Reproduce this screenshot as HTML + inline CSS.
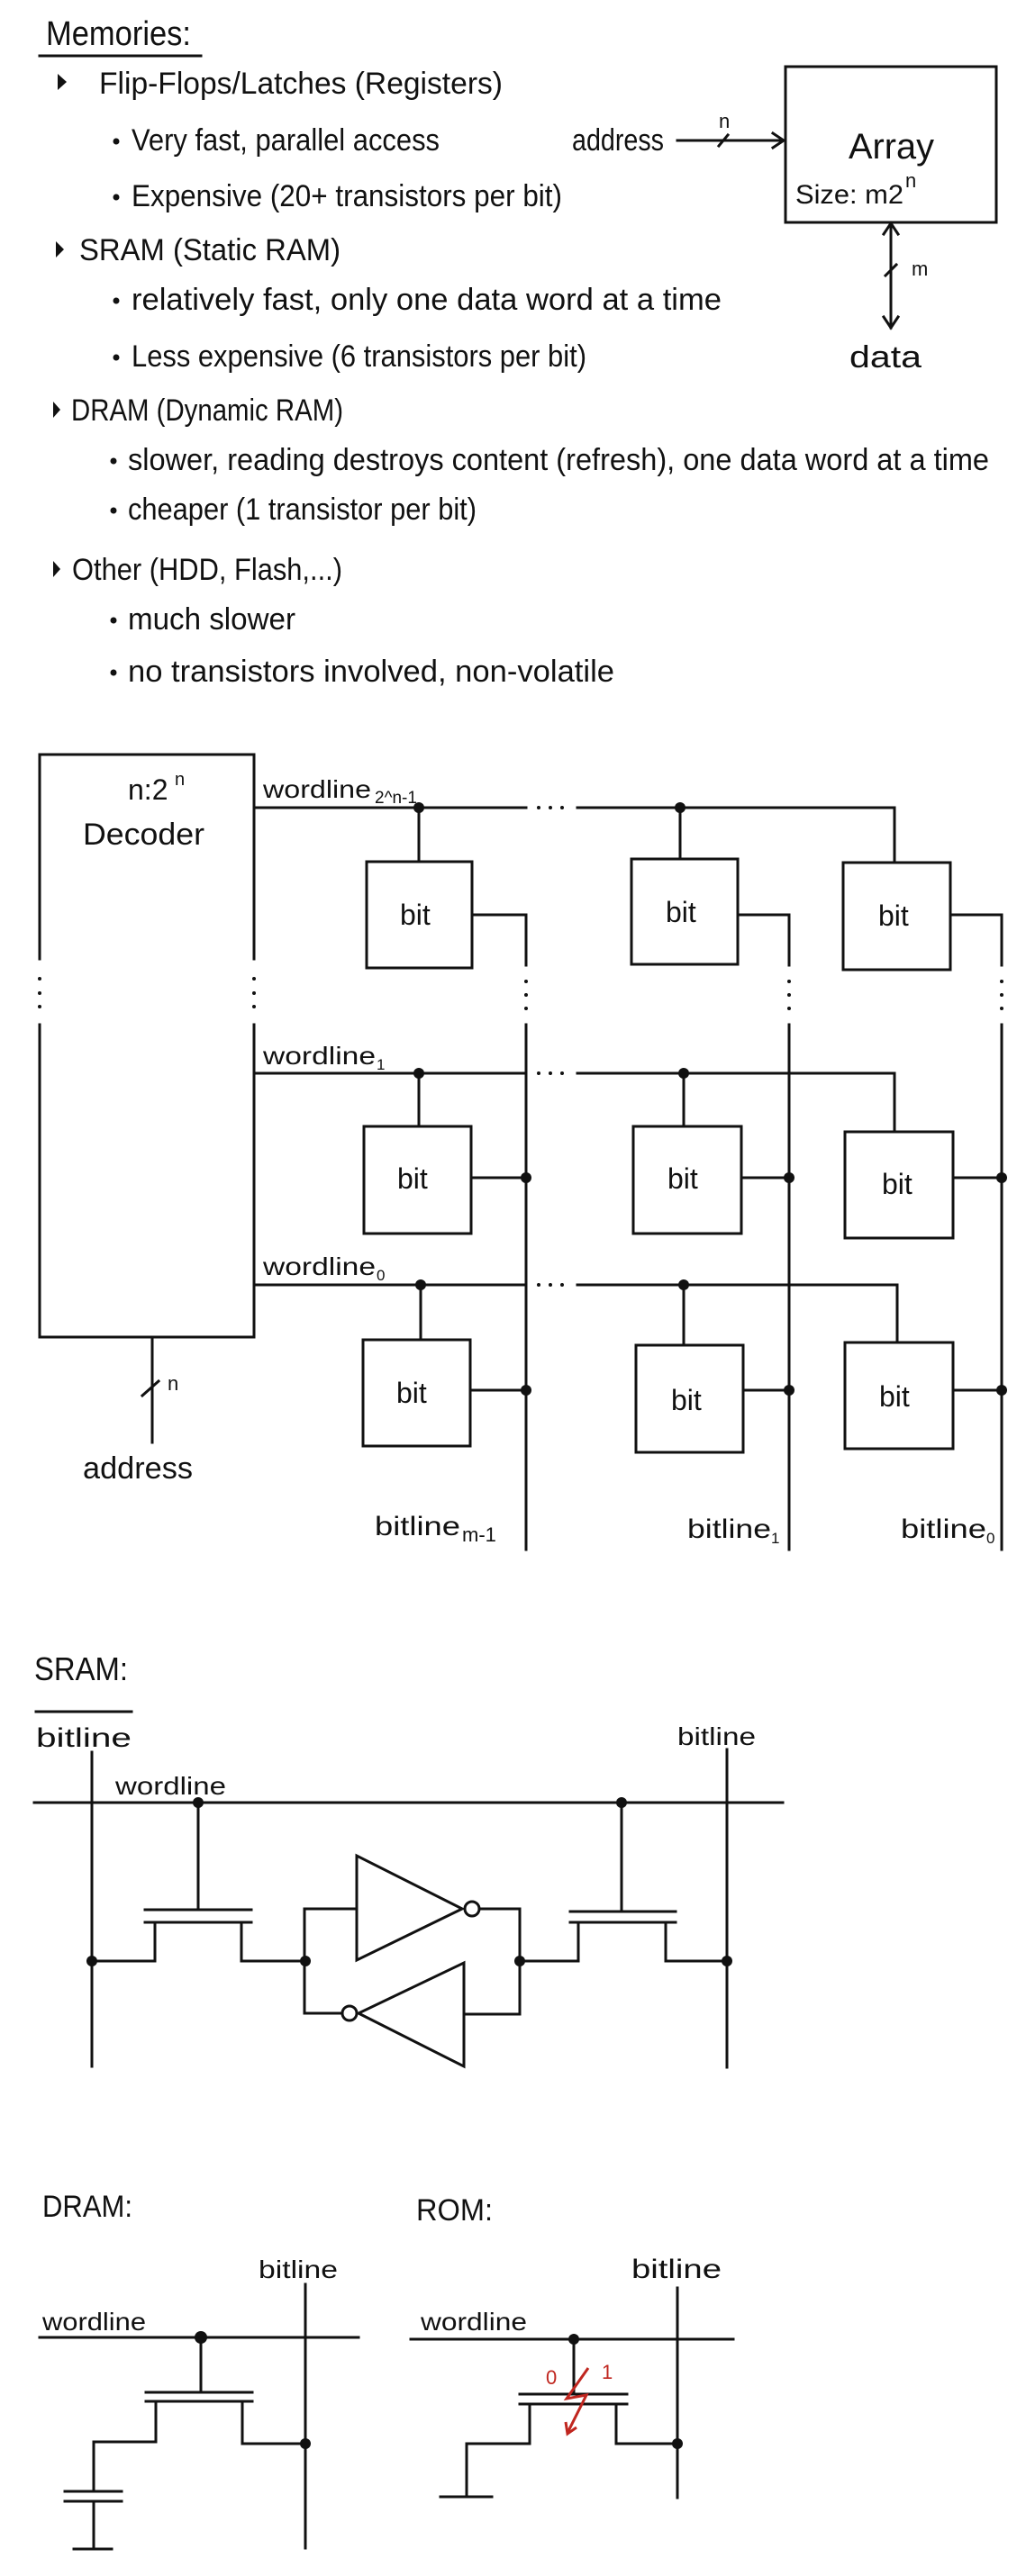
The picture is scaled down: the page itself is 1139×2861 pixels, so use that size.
<!DOCTYPE html>
<html><head><meta charset="utf-8"><style>
html,body{margin:0;padding:0;background:#fff;}
svg{display:block;}
text{font-family:"Liberation Sans",sans-serif;fill:#111;}
</style></head><body>
<svg width="1139" height="2861" viewBox="0 0 1139 2861" xmlns="http://www.w3.org/2000/svg">
<g stroke="#111" stroke-width="3" fill="none" stroke-linecap="square">
<line x1="44" y1="62" x2="223" y2="62"/>
<rect x="872" y="74" width="234" height="173"/>
<line x1="752" y1="156" x2="870" y2="156"/>
<polyline points="858,148 870,156 858,164"/>
<line x1="798" y1="162" x2="808" y2="150"/>
<line x1="989" y1="248" x2="989" y2="364"/>
<polyline points="981,260 989,248 997,260"/>
<polyline points="981,352 989,364 997,352"/>
<line x1="983" y1="306" x2="995" y2="294"/>
<line x1="44" y1="838" x2="282" y2="838"/>
<line x1="44" y1="1485" x2="282" y2="1485"/>
<line x1="44" y1="838" x2="44" y2="1065"/>
<line x1="44" y1="1138" x2="44" y2="1485"/>
<line x1="282" y1="838" x2="282" y2="1065"/>
<line x1="282" y1="1138" x2="282" y2="1485"/>
<line x1="169" y1="1485" x2="169" y2="1602"/>
<line x1="158" y1="1550" x2="176" y2="1534"/>
<line x1="584" y1="1016" x2="584" y2="1072"/><line x1="584" y1="1138" x2="584" y2="1721"/>
<line x1="876" y1="1016" x2="876" y2="1072"/><line x1="876" y1="1138" x2="876" y2="1721"/>
<line x1="1112" y1="1016" x2="1112" y2="1072"/><line x1="1112" y1="1138" x2="1112" y2="1721"/>
<line x1="282" y1="897" x2="584" y2="897"/><line x1="641" y1="897" x2="993" y2="897"/><line x1="993" y1="897" x2="993" y2="958"/>
<line x1="465" y1="897" x2="465" y2="957"/><line x1="755" y1="897" x2="755" y2="954"/>
<rect x="407" y="957" width="117" height="118"/><rect x="701" y="954" width="118" height="117"/><rect x="936" y="958" width="119" height="119"/>
<polyline points="524,1016 584,1016 584,1020"/><polyline points="819,1016 876,1016 876,1020"/><polyline points="1055,1016 1112,1016 1112,1020"/>
<line x1="282" y1="1192" x2="584" y2="1192"/><line x1="641" y1="1192" x2="993" y2="1192"/><line x1="993" y1="1192" x2="993" y2="1257"/>
<line x1="465" y1="1192" x2="465" y2="1251"/><line x1="759" y1="1192" x2="759" y2="1251"/>
<rect x="404" y="1251" width="119" height="119"/><rect x="703" y="1251" width="120" height="119"/><rect x="938" y="1257" width="120" height="118"/>
<line x1="523" y1="1308" x2="584" y2="1308"/><line x1="823" y1="1308" x2="876" y2="1308"/><line x1="1058" y1="1308" x2="1112" y2="1308"/>
<line x1="282" y1="1427" x2="584" y2="1427"/><line x1="641" y1="1427" x2="996" y2="1427"/><line x1="996" y1="1427" x2="996" y2="1491"/>
<line x1="467" y1="1427" x2="467" y2="1488"/><line x1="759" y1="1427" x2="759" y2="1494"/>
<rect x="403" y="1488" width="119" height="118"/><rect x="706" y="1494" width="119" height="119"/><rect x="938" y="1491" width="120" height="118"/>
<line x1="522" y1="1544" x2="584" y2="1544"/><line x1="825" y1="1544" x2="876" y2="1544"/><line x1="1058" y1="1544" x2="1112" y2="1544"/>
<line x1="40" y1="1901" x2="146" y2="1901"/>
<line x1="102" y1="1946" x2="102" y2="2295"/>
<line x1="807" y1="1943" x2="807" y2="2296"/>
<line x1="38" y1="2002" x2="869" y2="2002"/>
<line x1="220" y1="2002" x2="220" y2="2121"/>
<line x1="161" y1="2121" x2="279" y2="2121"/><line x1="161" y1="2135" x2="279" y2="2135"/>
<polyline points="102,2178 172,2178 172,2135"/><polyline points="268,2135 268,2178 339,2178"/>
<polygon points="396,2061 396,2177 513,2120"/>
<circle cx="524" cy="2120" r="8"/>
<polyline points="532,2120 577,2120 577,2237 515,2237"/>
<polyline points="396,2120 338,2120 338,2236 380,2236"/>
<polygon points="515,2180 515,2295 398,2236"/>
<circle cx="388" cy="2236" r="8"/>
<line x1="690" y1="2002" x2="690" y2="2123"/>
<line x1="633" y1="2123" x2="750" y2="2123"/><line x1="633" y1="2135" x2="750" y2="2135"/>
<polyline points="577,2178 642,2178 642,2135"/><polyline points="739,2135 739,2178 807,2178"/>
<line x1="339" y1="2537" x2="339" y2="2830"/>
<line x1="44" y1="2596" x2="398" y2="2596"/>
<line x1="223" y1="2596" x2="223" y2="2657"/>
<line x1="162" y1="2657" x2="280" y2="2657"/><line x1="162" y1="2667" x2="280" y2="2667"/>
<polyline points="269,2667 269,2714 339,2714"/>
<polyline points="173,2667 173,2712 104,2712 104,2767"/>
<line x1="72" y1="2767" x2="135" y2="2767"/><line x1="72" y1="2778" x2="135" y2="2778"/>
<line x1="104" y1="2778" x2="104" y2="2831"/><line x1="82" y1="2831" x2="124" y2="2831"/>
<line x1="752" y1="2541" x2="752" y2="2774"/>
<line x1="456" y1="2598" x2="814" y2="2598"/>
<line x1="637" y1="2598" x2="637" y2="2659"/>
<line x1="577" y1="2659" x2="696" y2="2659"/><line x1="577" y1="2670" x2="696" y2="2670"/>
<polyline points="684,2670 684,2714 752,2714"/>
<polyline points="588,2670 588,2714 518,2714 518,2773"/>
<line x1="489" y1="2773" x2="546" y2="2773"/>
</g>
<g stroke="#c0261f" stroke-width="3" fill="none">
<polyline points="653,2630 629,2664 651,2660 630,2702"/>
<polyline points="628,2690 630,2703 640,2696"/>
</g>
<text x="606" y="2648" font-size="22" style="fill:#c0261f">0</text>
<text x="668" y="2642" font-size="22" style="fill:#c0261f">1</text>
<g fill="#111">
<circle cx="465" cy="897" r="6"/><circle cx="755" cy="897" r="6"/>
<circle cx="465" cy="1192" r="6"/><circle cx="759" cy="1192" r="6"/>
<circle cx="467" cy="1427" r="6"/><circle cx="759" cy="1427" r="6"/>
<circle cx="584" cy="1308" r="6"/><circle cx="876" cy="1308" r="6"/><circle cx="1112" cy="1308" r="6"/>
<circle cx="584" cy="1544" r="6"/><circle cx="876" cy="1544" r="6"/><circle cx="1112" cy="1544" r="6"/>
<circle cx="220" cy="2002" r="6"/><circle cx="690" cy="2002" r="6"/>
<circle cx="102" cy="2178" r="6"/><circle cx="339" cy="2178" r="6"/><circle cx="577" cy="2178" r="6"/><circle cx="807" cy="2178" r="6"/>
<circle cx="223" cy="2596" r="7"/><circle cx="339" cy="2714" r="6"/>
<circle cx="637" cy="2598" r="6"/><circle cx="752" cy="2714" r="6"/>
<circle cx="44" cy="1087" r="2"/><circle cx="44" cy="1103" r="2"/><circle cx="44" cy="1118" r="2"/>
<circle cx="282" cy="1087" r="2"/><circle cx="282" cy="1103" r="2"/><circle cx="282" cy="1118" r="2"/>
<circle cx="584" cy="1090" r="2"/><circle cx="584" cy="1105" r="2"/><circle cx="584" cy="1120" r="2"/>
<circle cx="876" cy="1090" r="2"/><circle cx="876" cy="1105" r="2"/><circle cx="876" cy="1120" r="2"/>
<circle cx="1112" cy="1090" r="2"/><circle cx="1112" cy="1105" r="2"/><circle cx="1112" cy="1120" r="2"/>
<circle cx="598" cy="897" r="2"/><circle cx="611" cy="897" r="2"/><circle cx="624" cy="897" r="2"/>
<circle cx="598" cy="1192" r="2"/><circle cx="611" cy="1192" r="2"/><circle cx="624" cy="1192" r="2"/>
<circle cx="598" cy="1427" r="2"/><circle cx="611" cy="1427" r="2"/><circle cx="624" cy="1427" r="2"/>
<polygon points="64,82 74,91 64,100"/>
<polygon points="62,268 71,277 62,286"/>
<polygon points="59,446 67,455 59,464"/>
<polygon points="59,623 67,632 59,641"/>
<circle cx="129" cy="157" r="3.5"/><circle cx="129" cy="219" r="3.5"/>
<circle cx="129" cy="334" r="3.5"/><circle cx="129" cy="397" r="3.5"/>
<circle cx="126" cy="512" r="3.5"/><circle cx="126" cy="567" r="3.5"/>
<circle cx="126" cy="689" r="3.5"/><circle cx="126" cy="747" r="3.5"/>
</g>
<g font-size="34">
<text x="51" y="50" textLength="161" lengthAdjust="spacingAndGlyphs" font-size="38">Memories:</text>
<text x="110" y="104" textLength="448" lengthAdjust="spacingAndGlyphs">Flip-Flops/Latches (Registers)</text>
<text x="146" y="167" textLength="342" lengthAdjust="spacingAndGlyphs">Very fast, parallel access</text>
<text x="146" y="229" textLength="478" lengthAdjust="spacingAndGlyphs">Expensive (20+ transistors per bit)</text>
<text x="88" y="289" textLength="290" lengthAdjust="spacingAndGlyphs">SRAM (Static RAM)</text>
<text x="146" y="344" textLength="655" lengthAdjust="spacingAndGlyphs">relatively fast, only one data word at a time</text>
<text x="146" y="407" textLength="505" lengthAdjust="spacingAndGlyphs">Less expensive (6 transistors per bit)</text>
<text x="79" y="467" textLength="302" lengthAdjust="spacingAndGlyphs">DRAM (Dynamic RAM)</text>
<text x="142" y="522" textLength="956" lengthAdjust="spacingAndGlyphs">slower, reading destroys content (refresh), one data word at a time</text>
<text x="142" y="577" textLength="387" lengthAdjust="spacingAndGlyphs">cheaper (1 transistor per bit)</text>
<text x="80" y="644" textLength="300" lengthAdjust="spacingAndGlyphs">Other (HDD, Flash,...)</text>
<text x="142" y="699" textLength="186" lengthAdjust="spacingAndGlyphs">much slower</text>
<text x="142" y="757" textLength="540" lengthAdjust="spacingAndGlyphs">no transistors involved, non-volatile</text>
<text x="635" y="167" textLength="102" lengthAdjust="spacingAndGlyphs">address</text>
<text x="942" y="176" font-size="40" textLength="95" lengthAdjust="spacingAndGlyphs">Array</text>
<text x="883" y="226" font-size="30" textLength="120" lengthAdjust="spacingAndGlyphs">Size: m2</text>
<text x="1005" y="208" font-size="22">n</text>
<text x="798" y="142" font-size="22">n</text>
<text x="1012" y="306" font-size="22">m</text>
<text x="943" y="408" textLength="80" lengthAdjust="spacingAndGlyphs">data</text>
<text x="142" y="888" font-size="32">n:2</text>
<text x="194" y="872" font-size="20">n</text>
<text x="92" y="938" textLength="135" lengthAdjust="spacingAndGlyphs">Decoder</text>
<text x="186" y="1544" font-size="22">n</text>
<text x="92" y="1642" textLength="122" lengthAdjust="spacingAndGlyphs">address</text>
<text x="292" y="886" font-size="28" textLength="120" lengthAdjust="spacingAndGlyphs">wordline</text>
<text x="416" y="892" font-size="19">2^n-1</text>
<text x="292" y="1182" font-size="28" textLength="125" lengthAdjust="spacingAndGlyphs">wordline</text>
<text x="418" y="1188" font-size="17">1</text>
<text x="292" y="1416" font-size="28" textLength="125" lengthAdjust="spacingAndGlyphs">wordline</text>
<text x="418" y="1422" font-size="17">0</text>
<text x="416" y="1705" font-size="30" textLength="95" lengthAdjust="spacingAndGlyphs">bitline</text>
<text x="513" y="1712" font-size="22">m-1</text>
<text x="763" y="1708" font-size="30" textLength="93" lengthAdjust="spacingAndGlyphs">bitline</text>
<text x="856" y="1714" font-size="17">1</text>
<text x="1000" y="1708" font-size="30" textLength="95" lengthAdjust="spacingAndGlyphs">bitline</text>
<text x="1095" y="1714" font-size="17">0</text>
</g>
<g font-size="32">
<text x="444" y="1027">bit</text><text x="739" y="1024">bit</text><text x="975" y="1028">bit</text>
<text x="441" y="1320">bit</text><text x="741" y="1320">bit</text><text x="979" y="1326">bit</text>
<text x="440" y="1558">bit</text><text x="745" y="1566">bit</text><text x="976" y="1562">bit</text>
</g>
<g font-size="30">
<text x="38" y="1866" font-size="36" textLength="104" lengthAdjust="spacingAndGlyphs">SRAM:</text>
<text x="40" y="1940" textLength="106" lengthAdjust="spacingAndGlyphs">bitline</text>
<text x="128" y="1993" font-size="28" textLength="123" lengthAdjust="spacingAndGlyphs">wordline</text>
<text x="752" y="1938" font-size="28" textLength="87" lengthAdjust="spacingAndGlyphs">bitline</text>
<text x="47" y="2462" font-size="34" textLength="100" lengthAdjust="spacingAndGlyphs">DRAM:</text>
<text x="287" y="2530" font-size="28" textLength="88" lengthAdjust="spacingAndGlyphs">bitline</text>
<text x="47" y="2588" font-size="28" textLength="115" lengthAdjust="spacingAndGlyphs">wordline</text>
<text x="462" y="2466" font-size="34" textLength="85" lengthAdjust="spacingAndGlyphs">ROM:</text>
<text x="701" y="2530" font-size="30" textLength="100" lengthAdjust="spacingAndGlyphs">bitline</text>
<text x="467" y="2588" font-size="28" textLength="118" lengthAdjust="spacingAndGlyphs">wordline</text>
</g>
</svg>
</body></html>
